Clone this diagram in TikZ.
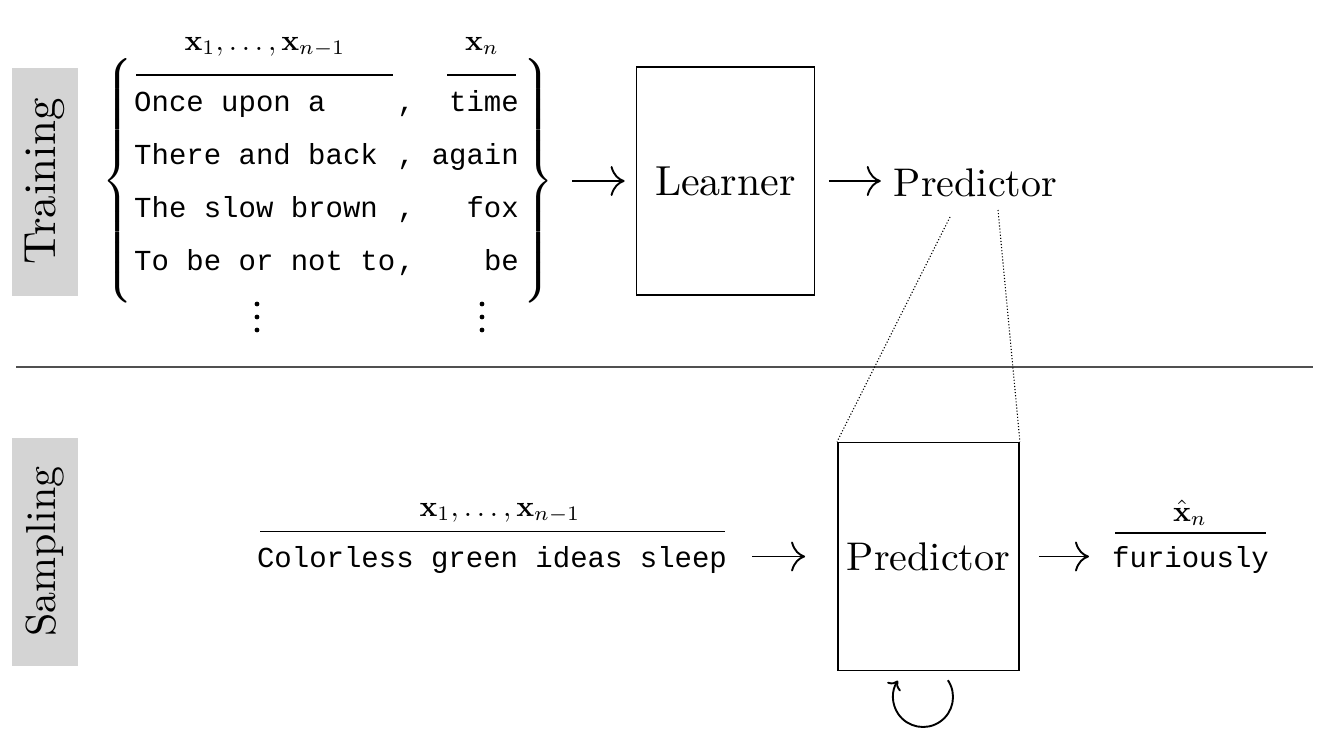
\documentclass[tikz,border=0pt]{standalone}
\usepackage{fontspec}
\setmainfont{lmroman10-regular.otf}[BoldFont=lmroman10-bold.otf]
\newfontfamily\cour{Liberation Mono}
\usetikzlibrary{arrows.meta}
\definecolor{secgray}{RGB}{212,212,212}
\definecolor{sepgray}{RGB}{80,80,80}
\tikzset{
  lbl/.style={font=\fontsize{42}{50}\selectfont, inner sep=0pt},
  predfont/.style={font=\fontsize{40}{48}\selectfont},
  ttx/.style={font=\fontsize{29}{34}\selectfont\cour, inner sep=0pt},
  mth/.style={inner sep=0pt},
  boxn/.style={draw, line width=1.8pt, minimum height=228pt, inner sep=0pt, lbl},
  arr/.style={line width=1.9pt, -{Computer Modern Rightarrow[length=14pt,width=30pt,line width=1.9pt]}},
  looparr/.style={line width=1.9pt, -{Computer Modern Rightarrow[length=8pt,width=16pt,line width=1.9pt]}},
  sect/.style={fill=secgray, minimum width=228pt, minimum height=66pt, inner sep=0pt, rotate=90, lbl},
  dotl/.style={dotted, line width=1.1pt},
  hrule/.style={line width=1.4pt},
  bracen/.style={inner sep=0pt},
}
\newcommand{\bigmath}[1]{\scalebox{2.95}{$#1$}}
\newcommand{\tallbrace}[2]{\scalebox{3.4}{$\delimiterfactor=1000 \delimitershortfall=0pt \left#1\vrule height 37.8pt depth 32.8pt width 0pt\right#2$}}
\begin{document}
\begin{tikzpicture}[x=1pt,y=-1pt]
\useasboundingbox (0,0) rectangle (1333,750);
% section labels
\node[sect, font=\fontsize{45}{54}\selectfont] (train) at (45,181.5) {Training};
\node[sect] (samp) at (45,551.5) {Sampling};
\draw[line width=2pt, draw=sepgray] (16,367) -- (1313,367);
% training set
\node[bracen] (lb) at (120,181) {\tallbrace{\{}{.}};
\node[bracen] (rb) at (537,181) {\tallbrace{.}{\}}};
\node[mth, anchor=base] (lx) at (265,50) {\bigmath{\mathbf{x}_1,\ldots,\mathbf{x}_{n-1}}};
\node[mth, anchor=base] (lxn) at (482,50) {\bigmath{\mathbf{x}_n}};
\draw[hrule] (136,75) -- (393,75);
\draw[hrule] (447,75) -- (516,75);
\node[ttx, anchor=base west] (r1l) at (134,111) {Once upon a};
\node[ttx, anchor=base west] (r2l) at (134,164) {There and back};
\node[ttx, anchor=base west] (r3l) at (134,217) {The slow brown};
\node[ttx, anchor=base west] (r4l) at (134,270) {To be or not to};
\node[ttx, anchor=base] (r1c) at (406,111) {,};
\node[ttx, anchor=base] (r2c) at (406,164) {,};
\node[ttx, anchor=base] (r3c) at (406,217) {,};
\node[ttx, anchor=base] (r4c) at (406,270) {,};
\node[ttx, anchor=base east] (r1r) at (519,111) {time};
\node[ttx, anchor=base east] (r2r) at (519,164) {again};
\node[ttx, anchor=base east] (r3r) at (519,217) {fox};
\node[ttx, anchor=base east] (r4r) at (519,270) {be};
\foreach \yy in {304,317,330} {
  \fill (257,\yy) circle (2.4pt);
  \fill (482,\yy) circle (2.4pt);
}
% learner
\node[boxn, minimum width=178pt] (learner) at (725.5,181) {Learner};
\node[lbl, predfont, anchor=base] (pred1) at (975.5,196) {Predictor};
\draw[arr, shorten <=18pt, shorten >=11pt] (rb.east |- learner.west) -- (learner.west);
\draw[arr, shorten <=13.5pt, shorten >=13pt] (learner.east) -- (learner.east -| pred1.west);
% sampling
\node[boxn, predfont, minimum width=181pt] (pred2) at (928.5,556.5) {Predictor};
\coordinate (pl) at (950,217);
\coordinate (pr) at (998,210);
\draw[dotl] (pl) -- (pred2.north west);
\draw[dotl] (pr) -- (pred2.north east);
\node[ttx, anchor=base] (cgis) at (492,567) {Colorless green ideas sleep};
\node[mth, anchor=base] (lx2) at (500,516) {\bigmath{\mathbf{x}_1,\ldots,\mathbf{x}_{n-1}}};
\draw[hrule] (260,531.5) -- (725,531.5);
\draw[arr, shorten <=25pt, shorten >=32pt] (cgis.east |- pred2.west) -- (pred2.west);
\node[ttx, anchor=base] (fur) at (1190.5,567) {furiously};
\node[mth, anchor=base] (xh) at (1190,521) {\bigmath{\hat{\mathbf{x}}_n}};
\draw[hrule] (1115,533) -- (1266,533);
\draw[arr, shorten <=19pt, shorten >=23pt] (pred2.east) -- (pred2.east -| fur.west);
\coordinate (loopc) at (923,697);
\draw[looparr] (loopc) ++(-34:30) arc[start angle=-34, end angle=213, radius=30];
\end{tikzpicture}
\end{document}
